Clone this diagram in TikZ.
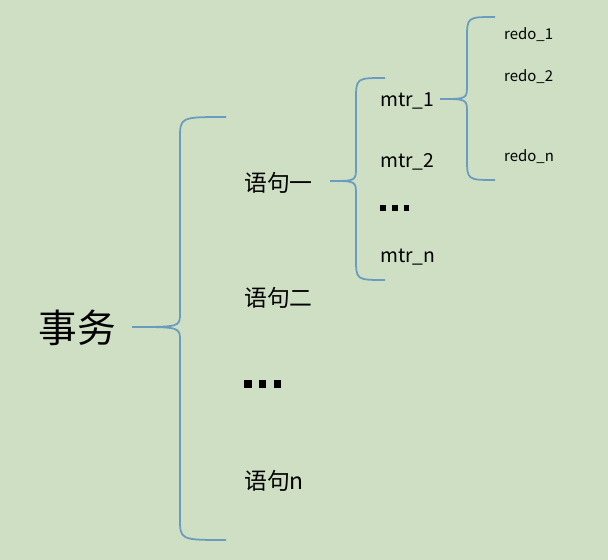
\documentclass[tikz,border=0pt]{standalone}
\usepackage{fontspec}
\setmainfont{Noto Sans CJK SC}
\definecolor{bgreen}{HTML}{CEDFC4}
\definecolor{braceblue}{HTML}{6A9CC0}
% brace: tip x, tip y, spine x, top y, bottom y, end x
\newcommand\curlybr[6]{%
\draw[bracestyle] (#6,#4) .. controls (#3,#4) .. (#3,#4+22) -- (#3,#2-14)
  .. controls (#3,#2) .. (#1,#2) .. controls (#3,#2) .. (#3,#2+14)
  -- (#3,#5-22) .. controls (#3,#5) .. (#6,#5);}
\newcommand\sqdots[1]{\rule{#1}{#1}\hspace{#1}\rule{#1}{#1}\hspace{#1}\rule{#1}{#1}}
\begin{document}
\begin{tikzpicture}[x=0.02cm,y=-0.02cm,
  bracestyle/.style={draw=braceblue,line width=1pt},
  lvlone/.style={font=\fontsize{13}{16}\selectfont,anchor=west},
  lvltwo/.style={font=\fontsize{11}{13}\selectfont,anchor=west},
  lvlthree/.style={font=\fontsize{8.5}{11}\selectfont,anchor=west},
  dots/.style={anchor=west,inner sep=0pt}]
\fill[bgreen] (0,0) rectangle (608,560);
\node(root) at (77,328) {\fontsize{22}{26}\selectfont 事务};
\node[lvlone](s1) at (238,183) {语句一};
\node[lvlone](s2) at (238,298) {语句二};
\node[dots](sd) at (244,384) {\sqdots{4.2pt}};
\node[lvlone](sn) at (238,481) {语句n};
\node[lvltwo](m1) at (374,101) {mtr\_1};
\node[lvltwo](m2) at (374,162) {mtr\_2};
\node[dots](md) at (380,208) {\sqdots{3.3pt}};
\node[lvltwo](mn) at (374,257) {mtr\_n};
\node[lvlthree](r1) at (498,35) {redo\_1};
\node[lvlthree](r2) at (498,77) {redo\_2};
\node[lvlthree](rn) at (498,157) {redo\_n};
\curlybr{132}{327}{180}{117}{540}{226}
\curlybr{330}{181}{356}{78}{280}{385}
\curlybr{440}{99}{467}{17}{180}{495}
\end{tikzpicture}
\end{document}
